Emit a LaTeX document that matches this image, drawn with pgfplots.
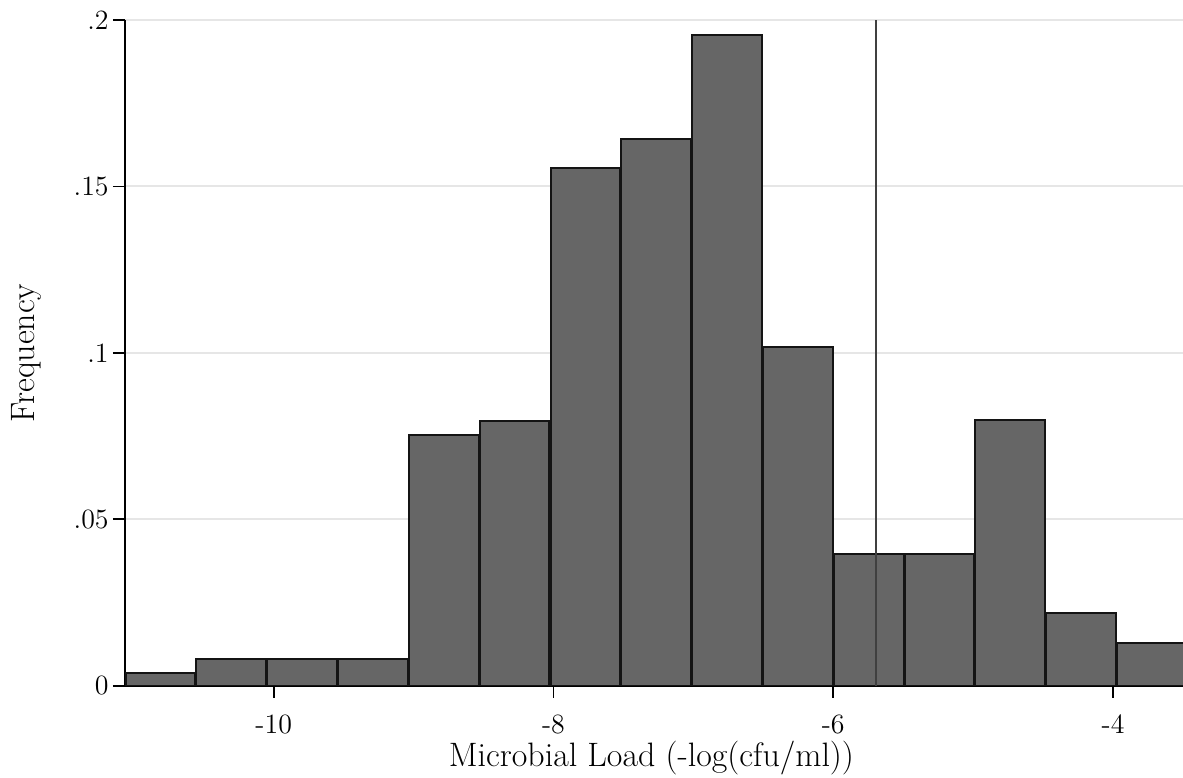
\documentclass[border=0pt]{standalone}
\usepackage{fontspec}
\usepackage{pgfplots}
\pgfplotsset{compat=1.18}
\definecolor{barfill}{HTML}{666666}
\definecolor{baredge}{HTML}{141414}
\definecolor{gridc}{HTML}{E6E6E6}
\begin{document}
\begin{tikzpicture}
\begin{axis}[
  scale only axis,
  width=529bp, height=332.85bp,
  xmin=-11.063, xmax=-3.50,
  ymin=0, ymax=0.2,
  axis lines*=left,
  axis line style={black, line width=1bp},
  xtick={-10,-8,-6,-4},
  xticklabels={-10,-8,-6,-4},
  ytick={0,0.05,0.1,0.15,0.2},
  yticklabels={0,.05,.1,.15,.2},
  tick align=outside,
  major tick length=6bp,
  tick style={black, line width=0.8bp},
  ymajorgrids,
  grid style={gridc, line width=1bp},
  ticklabel style={font=\fontsize{14}{16}\selectfont},
  xticklabel style={anchor=base, yshift=-18bp},
  yticklabel style={anchor=east, inner sep=0pt, xshift=-2bp},
  label style={font=\fontsize{17}{20}\selectfont},
  xlabel={Microbial Load (-log(cfu/ml))},
  ylabel={Frequency},
  xlabel style={at={(axis description cs:0.4976,-0.12063)}, anchor=base},
  ylabel style={at={(axis description cs:-0.08507,0.5)}, anchor=base},
]
\addplot[ybar interval, bar interval width=0.985, fill=barfill, draw=baredge, line width=1bp] coordinates {
(-11.0630,0.0039)
(-10.5567,0.0081)
(-10.0504,0.0081)
(-9.5441,0.0081)
(-9.0378,0.0753)
(-8.5315,0.0796)
(-8.0252,0.1554)
(-7.5189,0.1643)
(-7.0126,0.1956)
(-6.5063,0.1018)
(-6.0000,0.0395)
(-5.4937,0.0395)
(-4.9874,0.0798)
(-4.4811,0.0218)
(-3.9748,0.0129)
(-3.4685,0.0129)
};
\addplot[black!75, line width=1bp] coordinates {(-5.697,0) (-5.697,0.2)};
\end{axis}
\pgfresetboundingbox
\path[use as bounding box] ([shift={(-62.5bp,-46.15bp)}]current axis.south west) rectangle ([shift={(0bp,10bp)}]current axis.north east);
\end{tikzpicture}
\end{document}
